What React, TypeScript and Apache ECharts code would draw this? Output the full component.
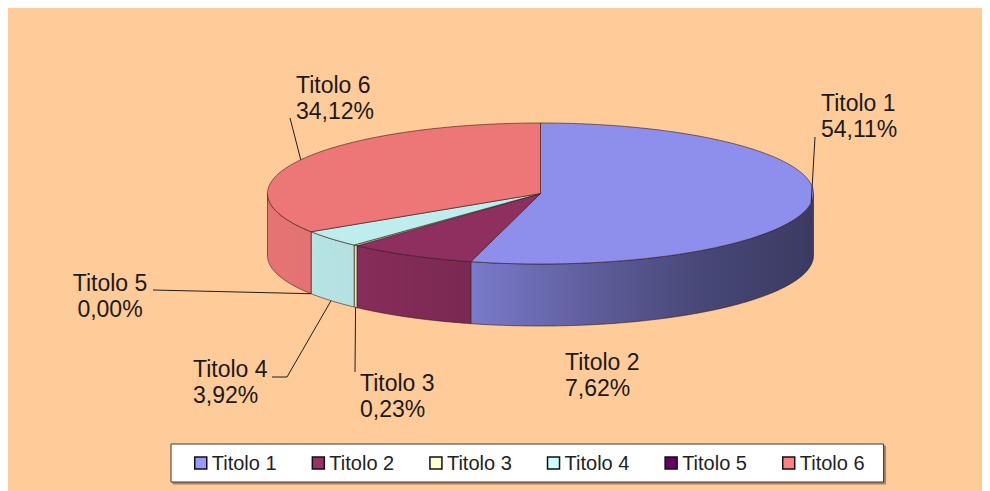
import React, { useEffect, useRef } from "react";
import * as echarts from "echarts";

// ---- data ----
const categories = ["Titolo 1", "Titolo 2", "Titolo 3", "Titolo 4", "Titolo 5", "Titolo 6"];
const values = [54.11, 7.62, 0.23, 3.92, 0.0, 34.12];
const palette = ["#9999FF", "#993366", "#FFFFCC", "#CCFFFF", "#660066", "#FF8080"];

// ---- layout (page px, converted to chart px) ----
const OX = 8;
const OY = 8;
const CX = 540.5 - OX;
const CY = 193.5 - OY;
const RX = 273;
const RY = 70.5;
const DEPTH = 62;
const FONT = '"Liberation Sans", Arial, Helvetica, sans-serif';

type LabelLayout = {
  x: number;
  y: number;
  align: string;
  anchor: "top" | "bottom" | null;
  line: number[][];
};

const labelLayout: LabelLayout[] = [
  { x: 821, y: 90, align: "left", anchor: "top", line: [[815, 137]] },
  { x: 565, y: 349, align: "left", anchor: null, line: [] },
  { x: 360, y: 370, align: "left", anchor: "bottom", line: [[355, 372]] },
  { x: 193, y: 356, align: "left", anchor: "bottom", line: [[287, 377], [272, 377]] },
  { x: 110, y: 270, align: "center", anchor: "bottom", line: [[153, 290]] },
  { x: 296, y: 72, align: "left", anchor: "top", line: [[290, 118]] },
];

const wallShadeStops: number[][] = [
  [0, 0.9],
  [0.16, 0.88],
  [0.37, 0.8],
  [0.61, 0.6],
  [0.79, 0.47],
  [1, 0.38],
];

function shade(hex: string, f: number): string {
  const n = parseInt(hex.slice(1), 16);
  const r = (n >> 16) & 255;
  const g = (n >> 8) & 255;
  const b = n & 255;
  const c = (x: number) => Math.max(0, Math.min(255, Math.round(x * f)));
  return `rgb(${c(r)},${c(g)},${c(b)})`;
}

function pt(deg: number, dy = 0): number[] {
  const r = (deg * Math.PI) / 180;
  return [CX + RX * Math.sin(r), CY - RY * Math.cos(r) + dy];
}

function arc(a0: number, a1: number, dy = 0): number[][] {
  const n = Math.max(2, Math.ceil(Math.abs(a1 - a0) / 0.5));
  const out: number[][] = [];
  for (let k = 0; k <= n; k++) out.push(pt(a0 + ((a1 - a0) * k) / n, dy));
  return out;
}

const total = values.reduce((a, b) => a + b, 0);
const EDGE = "rgba(50,25,25,0.75)";

function makeSeries(i: number) {
  return {
    type: "custom",
    name: categories[i],
    coordinateSystem: "none",
    itemStyle: { color: palette[i] },
    data: [values[i]],
    silent: true,
    renderItem: (_params: any, api: any) => {
      const v = api.value(0) as number;
      const before = values.slice(0, i).reduce((a, b) => a + b, 0);
      const a0 = (before / total) * 360;
      const a1 = ((before + v) / total) * 360;
      const mid = (a0 + a1) / 2;
      const children: any[] = [];
      const color = palette[i];

      if (v > 0) {
        const lo = Math.max(a0, 90);
        const hi = Math.min(a1, 270);
        if (hi > lo) {
          const top = arc(lo, hi);
          const bottom = arc(hi, lo, DEPTH);
          children.push({
            type: "polygon",
            z2: 1,
            shape: { points: top.concat(bottom) },
            style: {
              fill: {
                type: "linear",
                x: CX - RX,
                y: 0,
                x2: CX + RX,
                y2: 0,
                global: true,
                colorStops: wallShadeStops.map(([o, f]) => ({ offset: o, color: shade(color, f) })),
              },
              stroke: EDGE,
              lineWidth: 0.8,
            },
          });
        }
        children.push({
          type: "polygon",
          z2: 2,
          shape: { points: [[CX, CY]].concat(arc(a0, a1)) },
          style: { fill: shade(color, 0.93), stroke: EDGE, lineWidth: 0.8 },
        });
      }

      const L = labelLayout[i];
      if (L.anchor) {
        const anchor = pt(mid, L.anchor === "bottom" ? DEPTH : 0);
        const pts = [anchor].concat(L.line.map(([x, y]) => [x - OX, y - OY]));
        children.push({
          type: "polyline",
          z2: 20,
          shape: { points: pts },
          style: { stroke: "#1e1e1e", lineWidth: 1, fill: null },
        });
      }
      const pct = v.toFixed(2).replace(".", ",") + "%";
      children.push({
        type: "text",
        z2: 21,
        style: {
          text: `${categories[i]}\n${pct}`,
          x: L.x - OX,
          y: L.y - OY,
          fill: "#1a1a1a",
          fontSize: 23,
          fontFamily: FONT,
          lineHeight: 26,
          align: L.align,
          textAlign: L.align,
          verticalAlign: "top",
          textVerticalAlign: "top",
        },
      });
      return { type: "group", children };
    },
  };
}

export default function App() {
  const ref = useRef<HTMLDivElement>(null);
  useEffect(() => {
    document.documentElement.style.overflow = "hidden";
    document.body.style.overflow = "hidden";
    if (!ref.current) return;
    const chart = echarts.init(ref.current, undefined, { renderer: "svg" });
    chart.setOption({
      animation: false,
      backgroundColor: "#FFCB99",
      legend: {
        left: 171 - OX,
        top: 444 - OY,
        orient: "horizontal",
        icon: "rect",
        itemWidth: 12,
        itemHeight: 12,
        itemGap: 35,
        padding: [9, 19, 9, 23],
        backgroundColor: "#ffffff",
        borderColor: "#3a3a3a",
        borderWidth: 1,
        shadowColor: "rgba(0,0,0,0.35)",
        shadowOffsetX: 2,
        shadowOffsetY: 2,
        shadowBlur: 1,
        selectedMode: false,
        itemStyle: { borderColor: "#111", borderWidth: 1.5 },
        textStyle: { fontFamily: FONT, fontSize: 20, color: "#222", lineHeight: 20 },
        data: categories,
      },
      series: categories.map((_, i) => makeSeries(i)),
    });
    return () => chart.dispose();
  }, []);
  return <div ref={ref} style={{ width: 982, height: 483 }} />;
}
